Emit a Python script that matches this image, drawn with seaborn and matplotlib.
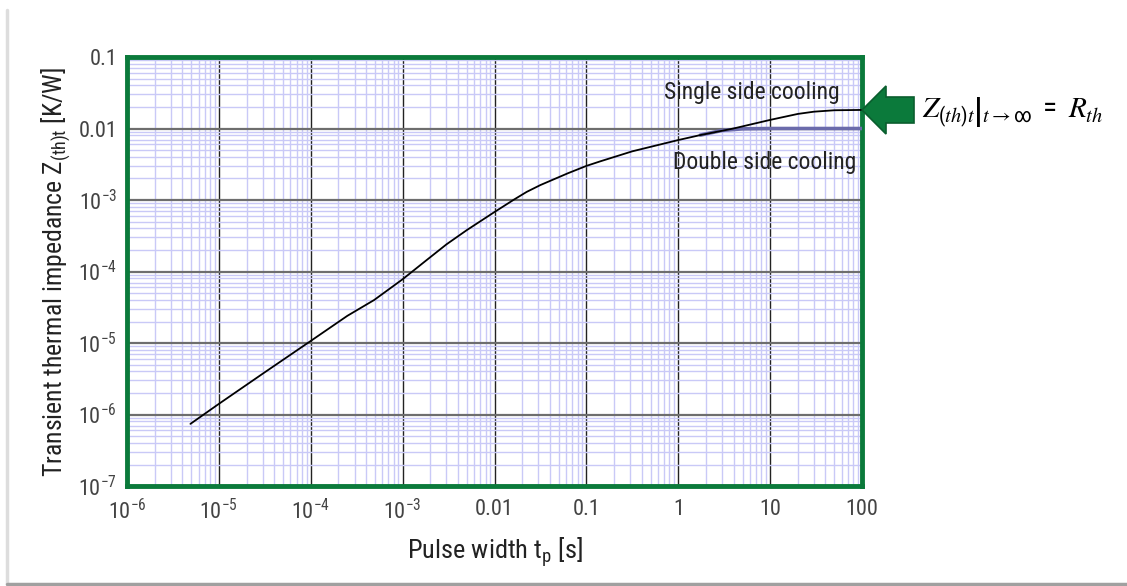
import numpy as np
import matplotlib.pyplot as plt
import seaborn as sns
from matplotlib.patches import Polygon
from matplotlib.lines import Line2D

# Single side cooling curve
t_single = [4.9e-6, 1e-5, 3.16e-5, 1e-4, 2.5e-4, 4.9e-4, 1e-3, 1.78e-3, 3.0e-3, 5.0e-3,
            1e-2, 1.62e-2, 2.24e-2, 3.16e-2, 6.3e-2, 0.1, 0.141, 0.316, 1.0, 1.74,
            3.98, 10.0, 20.0, 30.0, 50.0, 100.0]
z_single = [7.4e-7, 1.41e-6, 3.9e-6, 1.07e-5, 2.4e-5, 4.0e-5, 7.8e-5, 1.41e-4, 2.4e-4, 3.8e-4,
            6.8e-4, 1.01e-3, 1.3e-3, 1.62e-3, 2.37e-3, 3.0e-3, 3.47e-3, 4.8e-3, 6.9e-3, 8.1e-3,
            1.0e-2, 1.32e-2, 1.6e-2, 1.72e-2, 1.8e-2, 1.82e-2]

# Double side cooling curve (splits off near 1 s)
t_double = [1.74, 3.0, 5.0, 10.0, 100.0]
z_double = [8.1e-3, 9.4e-3, 9.9e-3, 1.0e-2, 1.0e-2]

x_ticks = [1e-6, 1e-5, 1e-4, 1e-3, 1e-2, 1e-1, 1, 10, 100]
x_labels = ['$10^{-6}$', '$10^{-5}$', '$10^{-4}$', '$10^{-3}$', '0.01', '0.1', '1', '10', '100']
y_ticks = [1e-7, 1e-6, 1e-5, 1e-4, 1e-3, 1e-2, 1e-1]
y_labels = ['$10^{-7}$', '$10^{-6}$', '$10^{-5}$', '$10^{-4}$', '$10^{-3}$', '0.01', '0.1']

sns.set_style('white')
plt.rcParams['font.family'] = ['Roboto Condensed', 'Liberation Sans Narrow', 'Liberation Sans', 'DejaVu Sans']
plt.rcParams['mathtext.default'] = 'regular'

fig = plt.figure(figsize=(11.27, 5.86), dpi=100)
ax = fig.add_axes([0.1127, 0.1706, 0.6522, 0.7321])

green = '#0b7a3b'

sns.lineplot(x=t_double, y=z_double, ax=ax, color='#6b6bab', lw=2.6, zorder=4)
sns.lineplot(x=t_single, y=z_single, ax=ax, color='black', lw=1.3, zorder=5)

ax.set_xscale('log')
ax.set_yscale('log')
ax.set_xlim(1e-6, 100)
ax.set_ylim(1e-7, 0.1)

ax.set_xticks(x_ticks)
ax.set_xticklabels(x_labels)
ax.set_yticks(y_ticks)
ax.set_yticklabels(y_labels)
ax.xaxis.set_minor_locator(plt.matplotlib.ticker.LogLocator(base=10, subs=np.arange(2, 10), numticks=20))
ax.yaxis.set_minor_locator(plt.matplotlib.ticker.LogLocator(base=10, subs=np.arange(2, 10), numticks=20))
ax.xaxis.set_minor_formatter(plt.NullFormatter())
ax.yaxis.set_minor_formatter(plt.NullFormatter())

ax.grid(which='minor', axis='both', color='#c9c9f7', lw=1.0, zorder=0)
ax.grid(which='major', axis='x', color='#222222', lw=1.0, zorder=1)
ax.grid(which='major', axis='y', color='#6e6e6e', lw=1.6, zorder=1)
ax.set_axisbelow(True)

ax.tick_params(which='both', length=0)
ax.tick_params(axis='x', labelsize=16, labelcolor='#444444', pad=9)
ax.tick_params(axis='y', labelsize=16, labelcolor='#444444', pad=7)

for s in ax.spines.values():
    s.set_color(green)
    s.set_linewidth(3.5)
    s.set_visible(True)

ax.set_xlabel('Pulse width t$_p$ [s]', fontsize=19, color='#222222', labelpad=8)
ax.set_ylabel('Transient thermal impedance Z$_{(th)t}$ [K/W]', fontsize=18.5, color='#222222', labelpad=4)

ax.text(0.70, 0.0316, 'Single side cooling', fontsize=17, color='#222222', ha='left', va='center')
ax.text(0.87, 0.0033, 'Double side cooling', fontsize=17, color='#222222', ha='left', va='center')

# green block arrow pointing to the plot edge
W, H = 1127.0, 586.0
pts_px = [(862, 110), (886, 86), (886, 97), (914, 97), (914, 123), (886, 123), (886, 134)]
arrow = Polygon([(x / W, 1 - y / H) for x, y in pts_px], closed=True,
                transform=fig.transFigure, facecolor=green, edgecolor='#0a5e2e', lw=1.2)
fig.add_artist(arrow)

fig.text(922 / W, 1 - 112 / H,
         r'$\left.\mathit{Z}_{(\mathit{th})\mathit{t}}\right|_{\mathit{t}\rightarrow\infty}\ =\ \mathit{R}_{\mathit{th}}$',
         fontsize=21, math_fontfamily='stix', ha='left', va='center', color='black')

# page frame shadow
fig.add_artist(Line2D([7 / W, 7 / W], [1 - 10 / H, 1 - 584 / H], transform=fig.transFigure,
                      color='#dddddd', lw=2.5))
fig.add_artist(Line2D([7 / W, 1.0], [1 - 584 / H, 1 - 584 / H], transform=fig.transFigure,
                      color='#a0a0a0', lw=2.5))

fig.savefig('out.png', dpi=100)
